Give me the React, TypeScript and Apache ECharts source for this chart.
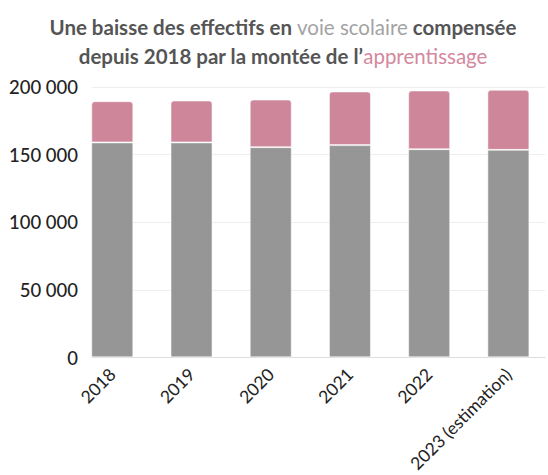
import React, { useEffect, useRef } from "react";
import * as echarts from "echarts";

const categories = ["2018", "2019", "2020", "2021", "2022", "2023 (estimation)"];
const voieScolaire = [159000, 159000, 155500, 157000, 154000, 153500];
const apprentissage = [30500, 31000, 35200, 39700, 43400, 44400];
const yTicks = [0, 50000, 100000, 150000, 200000];

const fmt = (v: number) => String(v).replace(/\B(?=(\d{3})+(?!\d))/g, " ");

export default function App() {
  const ref = useRef<HTMLDivElement>(null);
  useEffect(() => {
    if (!ref.current) return;
    const chart = echarts.init(ref.current, undefined, { renderer: "svg" });
    const font = "Lato, 'Open Sans', sans-serif";
    chart.setOption({
      animation: false,
      title: {
        text:
          "{a|Une baisse des effectifs en }{b|voie scolaire}{a| compensée}\n{a|depuis 2018 par la montée de l’}{c|apprentissage}",
        left: 278,
        top: 7,
        textAlign: "center",
        textStyle: {
          fontFamily: font,
          lineHeight: 29,
          rich: {
            a: { fontSize: 20.5, fontWeight: "bold", color: "#555555", fontFamily: font, lineHeight: 29 },
            b: { fontSize: 20.5, fontWeight: "normal", color: "#a3a3a3", fontFamily: font, lineHeight: 29 },
            c: { fontSize: 20.5, fontWeight: "normal", color: "#d4889e", fontFamily: font, lineHeight: 29 },
          },
        },
      },
      grid: [
        { left: 92, right: 3, top: 87, bottom: 117.5, containLabel: false },
        { left: 72.7, right: -16, top: 87, bottom: 117.5, containLabel: false },
      ],
      xAxis: [
        {
          type: "category",
          gridIndex: 0,
          data: categories,
          axisLine: { show: true, lineStyle: { color: "#dddddd", width: 1 } },
          axisTick: { show: false },
          axisLabel: { show: false },
        },
        {
          type: "category",
          gridIndex: 1,
          data: categories,
          axisLine: { show: false },
          axisTick: { show: false },
          axisLabel: {
            rotate: 45,
            margin: 14,
            fontFamily: font,
            fontSize: 17.5,
            color: "#222222",
            interval: 0,
          },
        },
      ],
      yAxis: [
        {
          type: "value",
          gridIndex: 0,
          min: yTicks[0],
          max: yTicks[yTicks.length - 1],
          interval: yTicks[1] - yTicks[0],
          axisLine: { show: false },
          axisTick: { show: false },
          splitLine: { show: true, lineStyle: { color: "#eeeeee", width: 1 } },
          axisLabel: {
            margin: 14,
            fontFamily: font,
            fontSize: 18.5,
            fontWeight: 500,
            color: "#222222",
            formatter: (v: number) => fmt(v),
          },
        },
        {
          type: "value",
          gridIndex: 1,
          min: yTicks[0],
          max: yTicks[yTicks.length - 1],
          interval: yTicks[1] - yTicks[0],
          show: false,
        },
      ],
      series: [
        {
          type: "bar",
          name: "Voie scolaire",
          xAxisIndex: 1,
          yAxisIndex: 1,
          stack: "total",
          data: voieScolaire,
          barWidth: 42,
          itemStyle: { color: "#969696", borderColor: "rgba(255,255,255,0.5)", borderWidth: 1 },
        },
        {
          type: "bar",
          name: "Apprentissage",
          xAxisIndex: 1,
          yAxisIndex: 1,
          stack: "total",
          data: apprentissage,
          barWidth: 42,
          itemStyle: {
            color: "#ce869b",
            borderColor: "rgba(255,255,255,0.5)",
            borderWidth: 1,
            borderRadius: [3, 3, 0, 0],
          },
        },
      ],
    });
    return () => chart.dispose();
  }, []);
  return (
    <div
      ref={ref}
      style={{ position: "fixed", left: 0, top: 0, width: 548, height: 475, background: "#ffffff" }}
    />
  );
}
